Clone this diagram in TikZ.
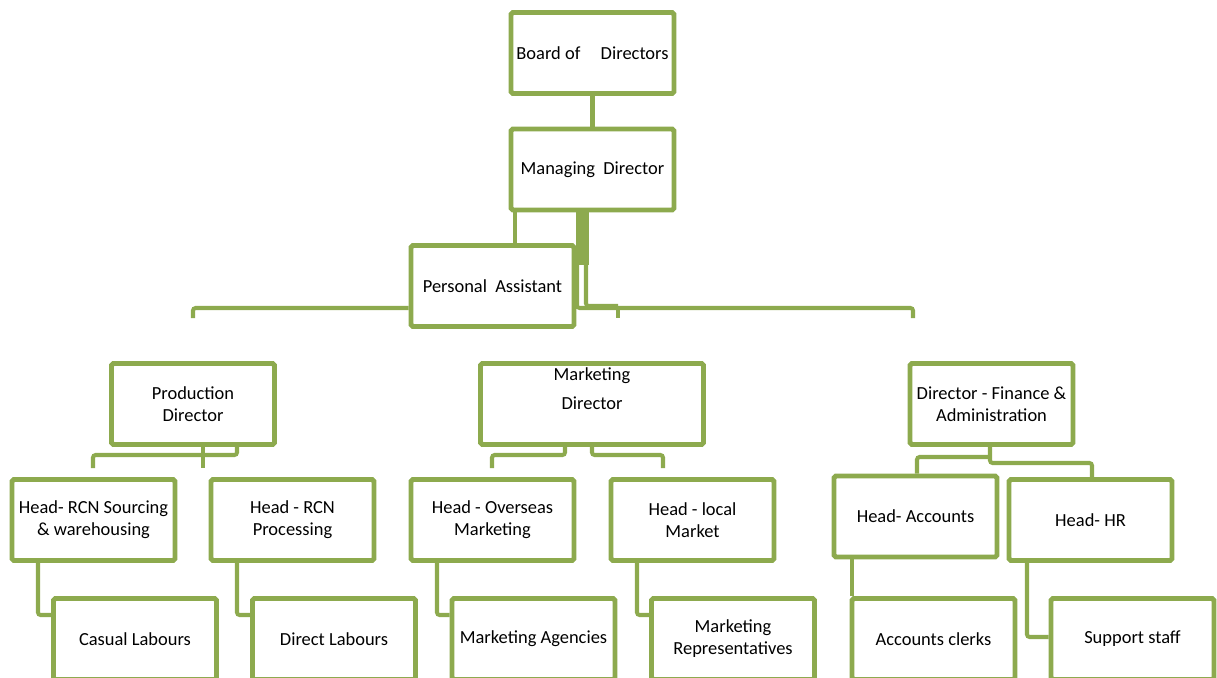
\documentclass[tikz,border=0pt]{standalone}
\usepackage{fontspec}
\setmainfont{Carlito}
\usepackage{xcolor}
\definecolor{ogreen}{RGB}{141,170,78}

\begin{document}
\begin{tikzpicture}[x=0.02cm, y=-0.02cm,
    chartbox/.style={draw=ogreen, line width=2.8pt, fill=white, rounded corners=1pt,
        minimum width=3.26cm, minimum height=1.62cm, inner sep=0pt, align=center,
        font=\fontsize{10.5}{12.5}\selectfont},
    link/.style={draw=ogreen, line width=2.3pt, rounded corners=1.5pt}]
    \useasboundingbox (0,0) rectangle (1217,677);

    % top of the chart
    \node[chartbox] (bod) at (592.5,53) {Board of\hspace{1.1em}Directors};
    \node[chartbox] (md) at (592.5,169.5) {Managing\hspace{0.45em}Director};
    \node[chartbox] (pa) at (492.5,286) {Personal\hspace{0.45em}Assistant};

    % directors
    \node[chartbox] (pd) at (193,404) {Production\\Director};
    \node[chartbox, minimum width=4.46cm] (mkd) at (592,404) {};
    \node[font=\fontsize{10.5}{12.5}\selectfont, align=center] (mkdlbl) at (592,389) {Marketing\\[4pt]Director};
    \node[chartbox] (fd) at (991.5,404) {Director - Finance \&\\Administration};

    % heads
    \node[chartbox] (hs) at (93.5,520) {Head- RCN Sourcing\\\& warehousing};
    \node[chartbox] (hp) at (292.5,520) {Head - RCN\\Processing};
    \node[chartbox] (ho) at (492.5,520) {Head - Overseas\\Marketing};
    \node[chartbox] (hl) at (692.5,520) {Head - local\\Market};
    \node[chartbox] (ha) at (915.5,516.5) {Head- Accounts};
    \node[chartbox] (hh) at (1090.5,520) {Head- HR};

    % staff
    \node[chartbox] (cl) at (135,639) {Casual Labours};
    \node[chartbox] (dl) at (334,639) {Direct Labours};
    \node[chartbox] (ag) at (533.5,639) {Marketing Agencies};
    \node[chartbox] (rp) at (733,639) {Marketing\\Representatives};
    \node[chartbox] (ck) at (933.5,639) {Accounts clerks};
    \node[chartbox] (ss) at (1132.5,639) {Support staff};

    % junction points
    \coordinate (j1) at (515,0);
    \coordinate (bar) at (582,265);
    \coordinate (hr) at (913,308);
    \coordinate (rt) at (913,318);
    \coordinate (mt) at (618,318);
    \coordinate (bl) at (193,308);
    \coordinate (lt) at (193,318);
    \coordinate (pd1) at (237,455);
    \coordinate (pd2) at (93,468);
    \coordinate (pd3) at (203,468);
    \coordinate (mk1) at (565,455);
    \coordinate (mk2) at (492,468);
    \coordinate (mk3) at (592,455);
    \coordinate (mk4) at (663,468);
    \coordinate (fd1) at (990,457);
    \coordinate (fd2) at (917,0);
    \coordinate (fd3) at (990,463);
    \coordinate (fd4) at (1092,0);
    \coordinate (w1) at (38,615);
    \coordinate (w2) at (237,615);
    \coordinate (w3) at (437,615);
    \coordinate (w4) at (637,615);
    \coordinate (w5) at (852,0);
    \coordinate (w6) at (1027,637);

    \draw[link] (bod) -- (md);
    \draw[link] (md.south -| j1) -- (pa.north -| j1);
    \draw[ogreen, line width=0.26cm] (md.south -| bar) -- (bar);
    \draw[link] ([xshift=-0.1cm]bar) |- (hr) -- (rt);
    \draw[link] ([xshift=0.08cm]bar) |- ([yshift=0.04cm]mt |- hr);
    \draw[link] (mt |- hr) -- (mt);
    \draw[link] (pa.west |- bl) -- (bl) -- (lt);

    \draw[link] (pd.south -| pd1) -- (pd1) -| (pd2);
    \draw[link] (pd.south -| pd3) -- (pd3);
    \draw[link] (mkd.south -| mk1) -- (mk1) -| (mk2);
    \draw[link] (mkd.south -| mk3) -- (mk3) -| (mk4);
    \draw[link] (fd.south -| fd3) -- (fd3) -| (hh.north -| fd4);
    \draw[link] (fd1) -| (ha.north -| fd2);

    \draw[link] (hs.south -| w1) |- (cl.west |- w1);
    \draw[link] (hp.south -| w2) |- (dl.west |- w2);
    \draw[link] (ho.south -| w3) |- (ag.west |- w3);
    \draw[link] (hl.south -| w4) |- (rp.west |- w4);
    \draw[link] (ha.south -| w5) -- (ck.north -| w5);
    \draw[link] (hh.south -| w6) |- (ss.west |- w6);
\end{tikzpicture}
\end{document}
